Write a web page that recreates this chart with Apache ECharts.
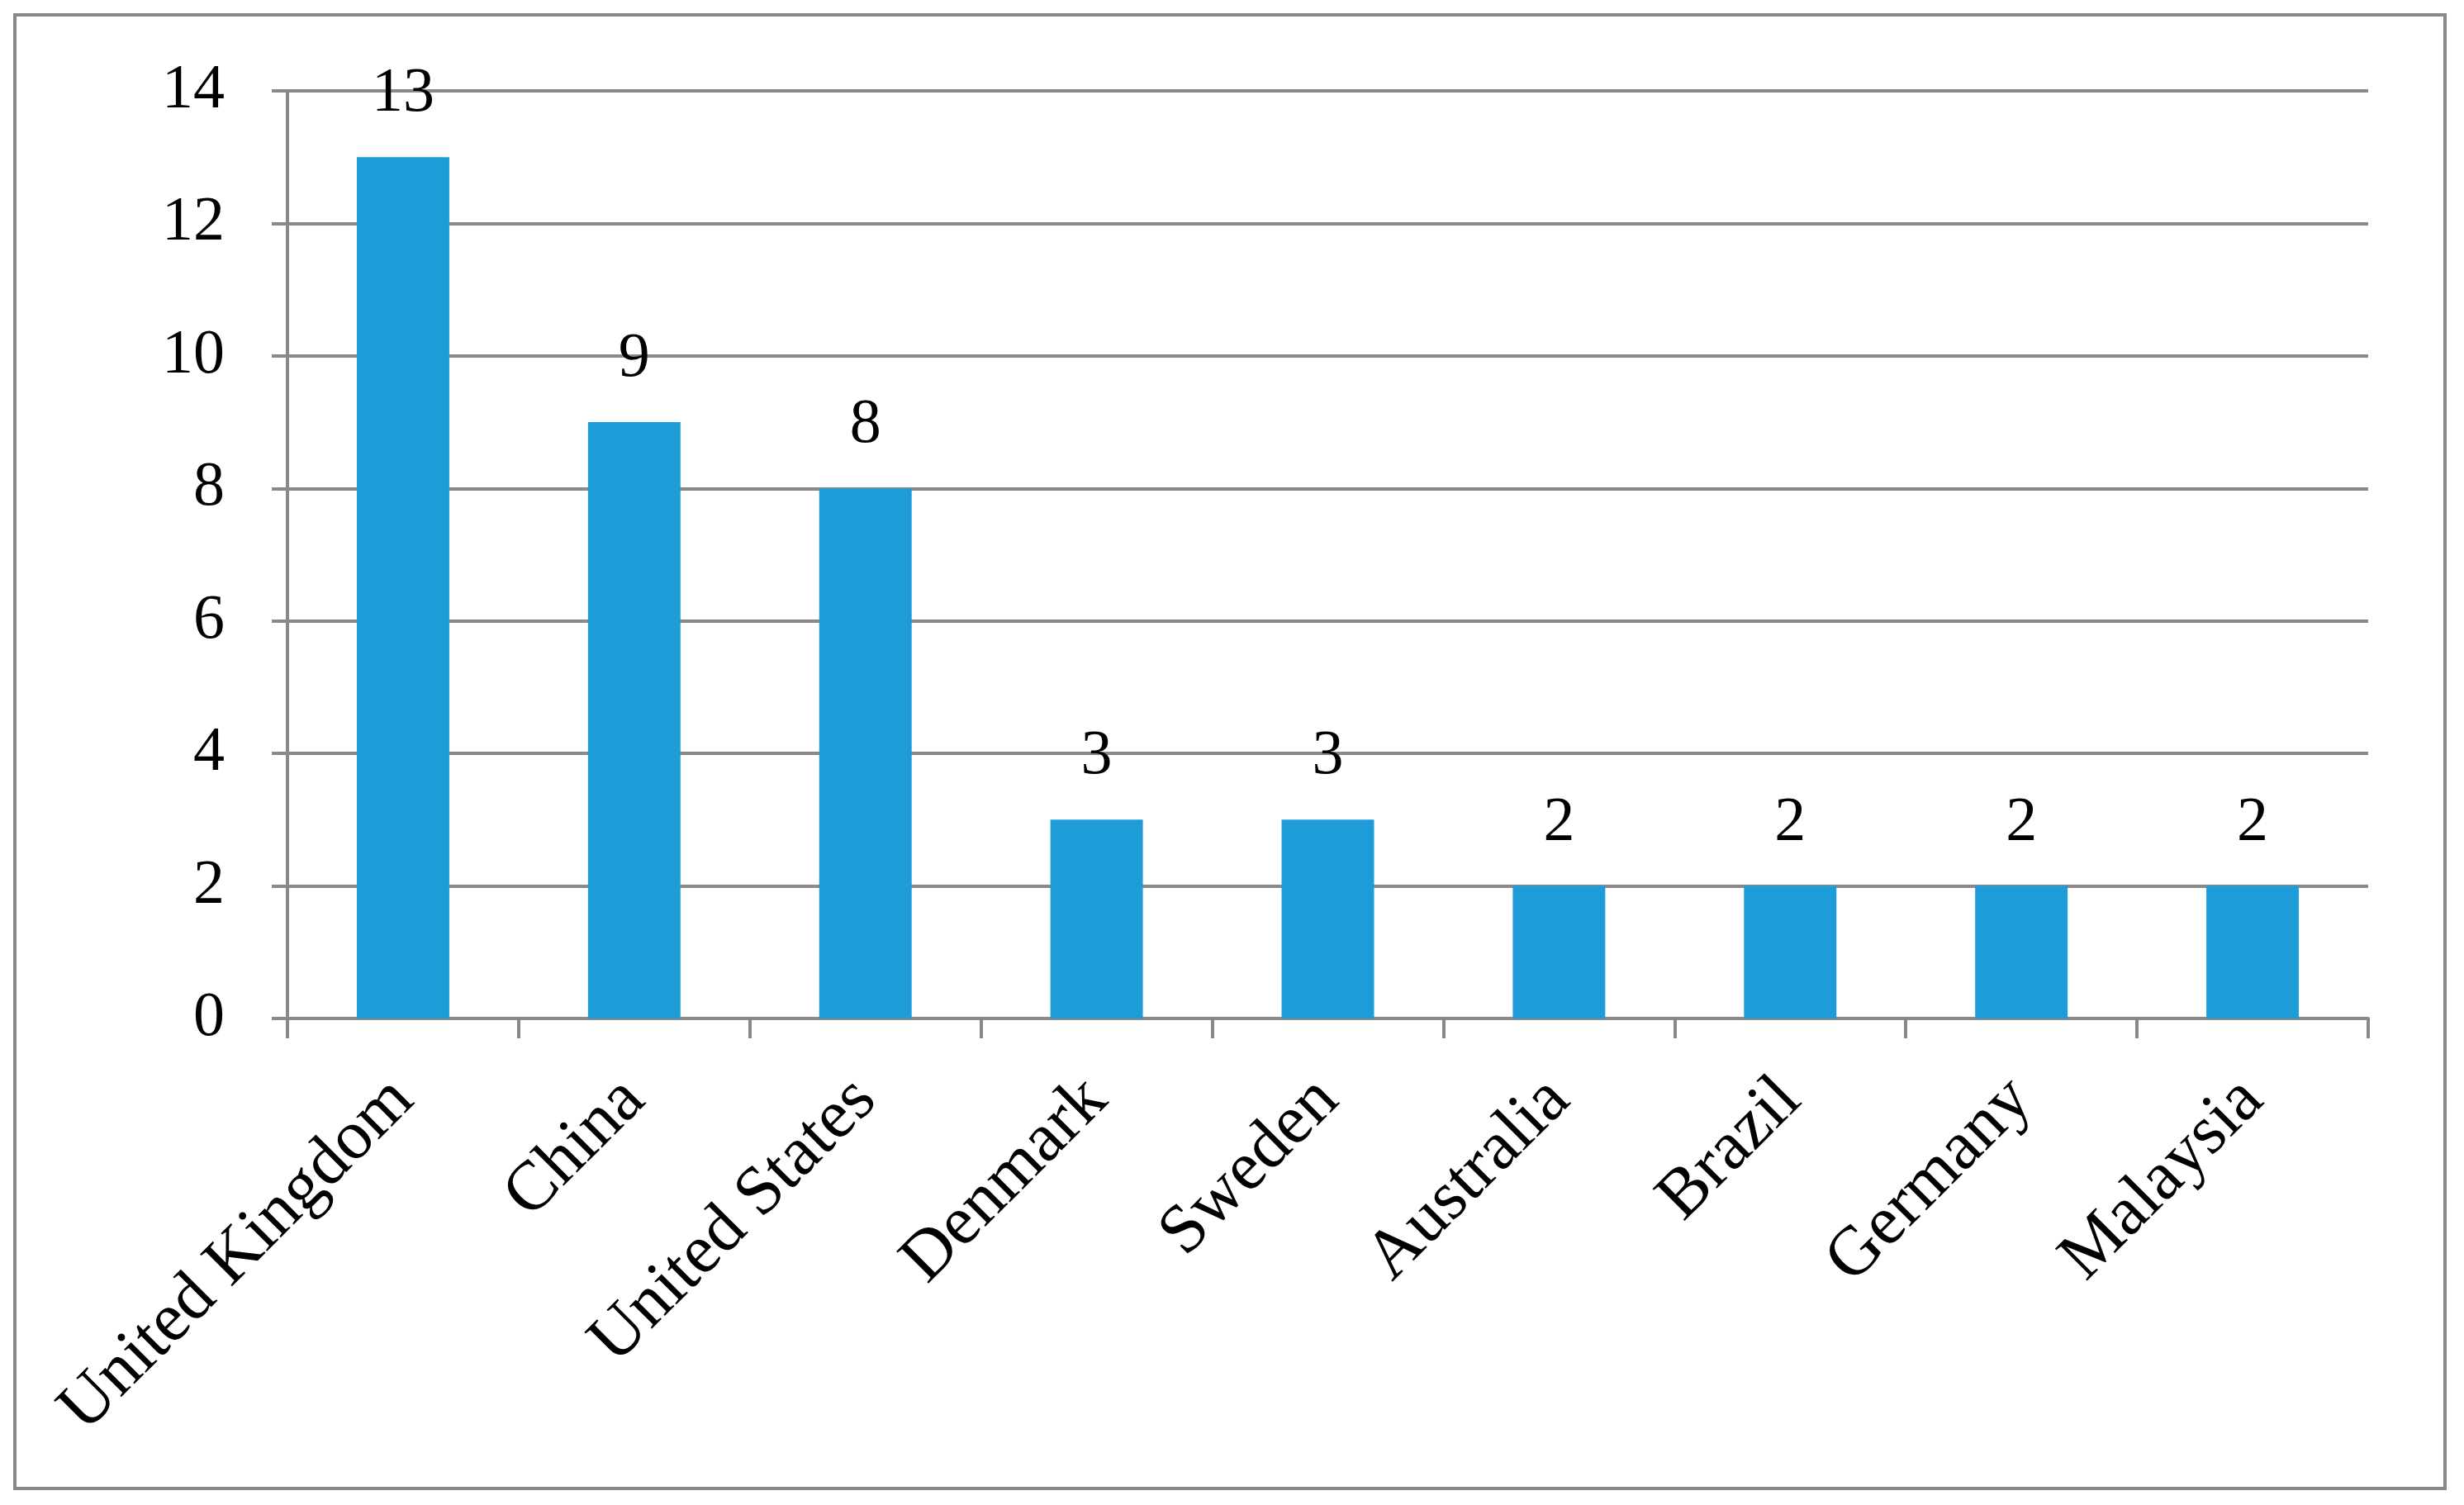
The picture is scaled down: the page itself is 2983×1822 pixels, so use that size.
<!DOCTYPE html>
<html>
<head>
<meta charset="utf-8">
<script src="https://cdn.jsdelivr.net/npm/echarts@6/dist/echarts.min.js"></script>
<style>
  html, body { margin: 0; padding: 0; background: #fff; }
  #main { width: 2983px; height: 1822px; }
</style>
</head>
<body>
<div id="main"></div>
<script>
// countries and counts
var countries = ['United Kingdom', 'China', 'United States', 'Denmark', 'Sweden', 'Australia', 'Brazil', 'Germany', 'Malaysia'];
var counts = [13, 9, 8, 3, 3, 2, 2, 2, 2];
var yMin = 0, yMax = 14, yStep = 2;

var gray = '#898989';
var font = 'Liberation Serif';

var myChart = echarts.init(document.getElementById('main'));
myChart.setOption({
  animation: false,
  backgroundColor: '#fff',
  graphic: [{
    type: 'rect',
    shape: { x: 18, y: 18, width: 2942, height: 1784 },
    style: { fill: 'none', stroke: gray, lineWidth: 4 },
    silent: true
  }],
  grid: { left: 348, right: 116, top: 110, bottom: 589 },
  xAxis: {
    type: 'category',
    data: countries,
    axisLine: { lineStyle: { color: gray, width: 4 } },
    axisTick: { show: true, length: 24, lineStyle: { color: gray, width: 4 } },
    axisLabel: {
      interval: 0,
      rotate: 45,
      margin: 86,
      color: '#000',
      fontFamily: font,
      fontSize: 84
    }
  },
  yAxis: {
    type: 'value',
    min: yMin,
    max: yMax,
    interval: yStep,
    axisLine: { show: true, lineStyle: { color: gray, width: 4 } },
    axisTick: { show: true, length: 19, lineStyle: { color: gray, width: 4 } },
    splitLine: { lineStyle: { color: gray, width: 4 } },
    axisLabel: {
      margin: 76,
      color: '#000',
      fontFamily: font,
      fontSize: 76
    }
  },
  series: [{
    type: 'bar',
    data: counts,
    barWidth: '40%',
    itemStyle: { color: '#1e9cd8' },
    label: {
      show: true,
      position: 'top',
      distance: 38,
      color: '#000',
      fontFamily: font,
      fontSize: 76
    }
  }]
});
</script>
</body>
</html>
